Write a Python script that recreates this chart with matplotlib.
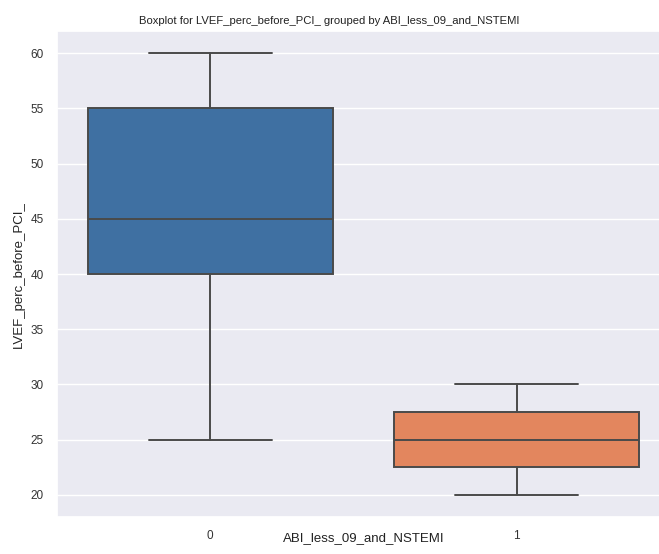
import matplotlib.pyplot as plt
import seaborn as sns

# LVEF summary per ABI_less_09_and_NSTEMI group
groups = ["0", "1"]
whisker_low = [25, 20]
q1 = [40, 22.5]
median = [45, 25]
q3 = [55, 27.5]
whisker_high = [60, 30]
box_colors = ["#3f70a2", "#e3865e"]

sns.set_theme(style="darkgrid")
plt.rcParams["font.family"] = ["Liberation Sans", "DejaVu Sans"]

fig = plt.figure(figsize=(6.59, 5.54), dpi=100)
ax = fig.add_axes([0.0865, 0.0668, 0.930, 0.877])

stats = []
for i in range(len(groups)):
    stats.append({
        "label": groups[i],
        "whislo": whisker_low[i],
        "q1": q1[i],
        "med": median[i],
        "q3": q3[i],
        "whishi": whisker_high[i],
        "fliers": [],
    })

line_col = "#4a4a4a"
bp = ax.bxp(stats, positions=range(len(groups)), widths=0.8, patch_artist=True,
            showfliers=False,
            boxprops=dict(edgecolor=line_col, linewidth=1.4),
            medianprops=dict(color=line_col, linewidth=1.4),
            whiskerprops=dict(color=line_col, linewidth=1.4),
            capprops=dict(color=line_col, linewidth=1.4),
            capwidths=0.4)
for patch, c in zip(bp["boxes"], box_colors):
    patch.set_facecolor(c)

ax.grid(axis="x", visible=False)
ax.set_xlim(-0.5, 1.5)
ax.set_ylim(18, 62)
ax.set_xticks(range(len(groups)))
ax.set_xticklabels(groups)
ax.tick_params(labelsize=8.5, colors="#333333")
ax.set_xlabel("ABI_less_09_and_NSTEMI", fontsize=9.5, color="#222222", labelpad=-7)
ax.set_ylabel("LVEF_perc_before_PCI_", fontsize=9.5, color="#222222")
ax.set_title("Boxplot for LVEF_perc_before_PCI_ grouped by ABI_less_09_and_NSTEMI",
             fontsize=8.1, color="#222222", pad=5, x=0.445)

fig.savefig("out.png", dpi=100)
